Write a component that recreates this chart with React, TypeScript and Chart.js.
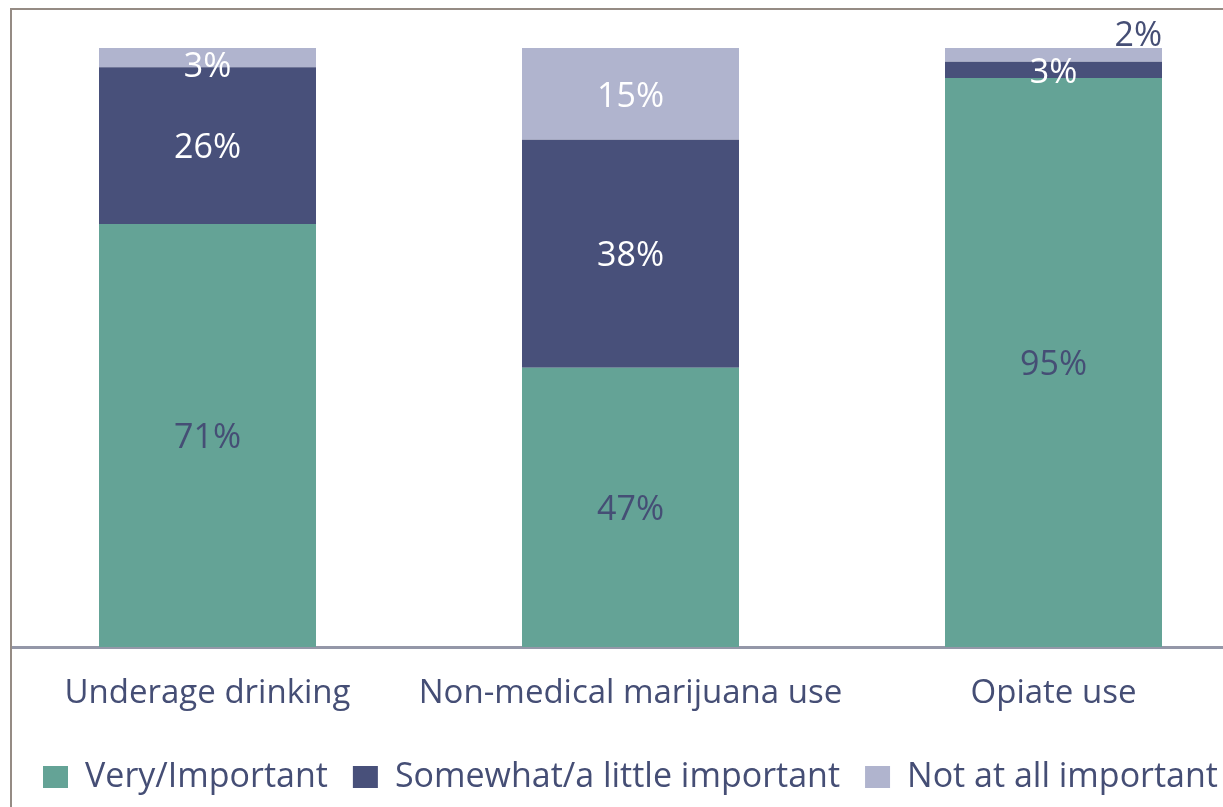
import React, { useEffect, useRef } from "react";
import { Chart, registerables } from "chart.js";

Chart.register(...registerables);

const categories = ["Underage drinking", "Non-medical marijuana use", "Opiate use"];
const seriesNames = ["Very/Important", "Somewhat/a little important", "Not at all important"];
const veryImportant = [70.6, 46.6, 95.0];
const somewhatImportant = [26.2, 38.1, 2.7];
const notImportant = [3.2, 15.3, 2.3];

const COLORS = ["#64a396", "#48507a", "#b0b4ce"];
const TEXT_DARK = "#454e75";
const FONT = "'Open Sans', Lato, sans-serif";

const labelPlugin = {
  id: "segLabels",
  afterDatasetsDraw(chart: any) {
    const ctx = chart.ctx;
    const areaTop = chart.chartArea.top;
    ctx.save();
    ctx.font = `34px ${FONT}`;
    chart.data.datasets.forEach((ds: any, di: number) => {
      const meta = chart.getDatasetMeta(di);
      meta.data.forEach((bar: any, i: number) => {
        const v = ds.data[i];
        const txt = Math.round(v) + "%";
        const top = Math.min(bar.y, bar.base);
        const bottom = Math.max(bar.y, bar.base);
        const isLast = di === chart.data.datasets.length - 1;
        if (isLast && bottom - top < 16) {
          ctx.fillStyle = TEXT_DARK;
          ctx.textAlign = "right";
          ctx.textBaseline = "middle";
          ctx.fillText(txt, bar.x + bar.width / 2, top - 12);
        } else {
          ctx.fillStyle = di === 0 ? TEXT_DARK : "#ffffff";
          ctx.textAlign = "center";
          ctx.textBaseline = "middle";
          const cy = Math.max((top + bottom) / 2, areaTop + 16);
          ctx.fillText(txt, bar.x, cy + 3);
        }
      });
    });
    ctx.restore();
  },
};

export default function App() {
  const ref = useRef<HTMLCanvasElement | null>(null);
  useEffect(() => {
    if (!ref.current) return;
    const values = [veryImportant, somewhatImportant, notImportant];
    const chart = new Chart(ref.current, {
      type: "bar",
      data: {
        labels: categories,
        datasets: seriesNames.map((name, k) => ({
          label: name,
          data: values[k],
          backgroundColor: COLORS[k],
          borderWidth: 0,
          barPercentage: 0.513,
          categoryPercentage: 1,
        })),
      },
      options: {
        animation: false,
        responsive: false,
        maintainAspectRatio: false,
        layout: { padding: { top: 48, left: 0, right: 0, bottom: 0 } },
        plugins: {
          tooltip: { enabled: false },
          legend: {
            position: "bottom",
            labels: {
              boxWidth: 25,
              boxHeight: 22,
              padding: 25,
              color: TEXT_DARK,
              font: { family: FONT, size: 34 },
            },
          },
        },
        scales: {
          x: {
            stacked: true,
            grid: { display: false, drawTicks: false },
            border: { display: true, color: "#9497a8", width: 3 },
            ticks: {
              color: TEXT_DARK,
              font: { family: FONT, size: 33 },
              padding: 27,
              maxRotation: 0,
              autoSkip: false,
            },
            afterFit: (scale: any) => {
              scale.height = 88;
            },
          },
          y: {
            stacked: true,
            min: 0,
            max: 100,
            display: false,
          },
        },
      },
      plugins: [labelPlugin],
    });
    return () => chart.destroy();
  }, []);

  return (
    <div
      style={{
        position: "fixed",
        left: 0,
        top: 0,
        width: 1223,
        height: 807,
        overflow: "hidden",
        background: "#ffffff",
      }}
    >
      <div
        style={{
          position: "absolute",
          left: 10,
          top: 8,
          width: 1400,
          height: 1000,
          border: "2px solid #958b84",
        }}
      />
      <div
        style={{
          position: "absolute",
          left: 12,
          top: 10,
          width: 1211,
          height: 797,
          overflow: "hidden",
        }}
      >
        <canvas
          ref={ref}
          width={1269}
          height={804}
          style={{ position: "absolute", left: -16, top: -10, width: 1269, height: 804 }}
        />
      </div>
    </div>
  );
}
